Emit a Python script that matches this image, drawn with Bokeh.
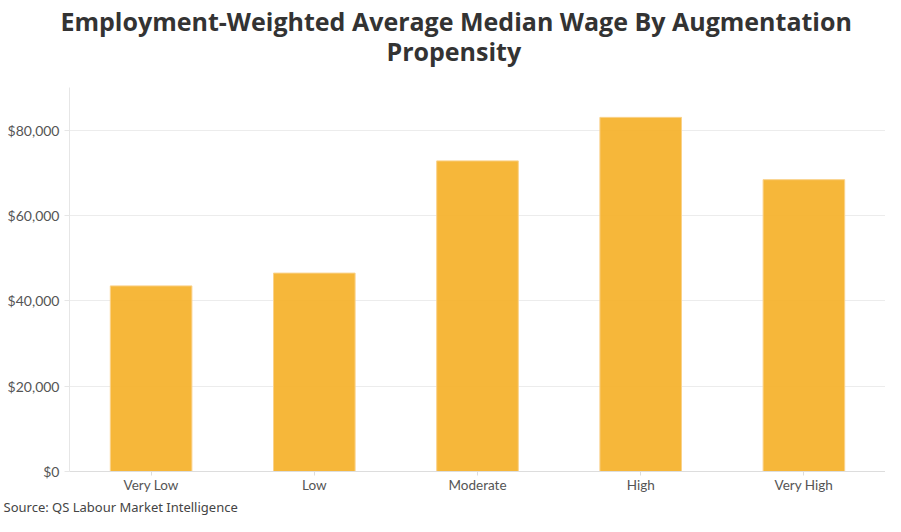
from bokeh.plotting import figure
from bokeh.models import Title, FixedTicker, NumeralTickFormatter, Range1d
from bokeh.embed import file_html
from bokeh.resources import INLINE

categories = ["Very Low", "Low", "Moderate", "High", "Very High"]
wages = [43500, 46500, 72800, 83000, 68400]
y_ticks = [0, 20000, 40000, 60000, 80000]

p = figure(x_range=categories, y_range=Range1d(0, 90000), width=885, height=516,
           output_backend="svg", toolbar_location=None,
           min_border_left=69, min_border_right=0, min_border_top=0, min_border_bottom=0)

p.vbar(x=categories, top=wages, width=0.5, fill_color="#F6B32F", fill_alpha=0.95,
       line_color="#FAD28A", line_width=1)

title_kw = dict(align="left", text_font="Open Sans", text_font_size="25px",
                text_font_style="bold", text_color="#333333")
# panels stack outward: spacer first (next to plot), then line 2, then line 1
p.add_layout(Title(text=" ", standoff=-9, **title_kw), "above")
p.add_layout(Title(text="Propensity", offset=317, standoff=-14, **title_kw), "above")
p.add_layout(Title(text="Employment-Weighted Average Median Wage By Augmentation",
                   offset=-9, standoff=2, **title_kw), "above")
p.add_layout(Title(text="Source: QS Labour Market Intelligence", align="left",
                   offset=-66, text_font="Noto Sans", text_font_size="13px",
                   text_font_style="normal", text_color="#444444", standoff=1), "below")

p.yaxis.ticker = FixedTicker(ticks=y_ticks)
p.yaxis.formatter = NumeralTickFormatter(format="$0,0")
p.yaxis.minor_tick_line_color = None
p.yaxis.major_tick_in = 0
p.yaxis.major_tick_out = 5
p.yaxis.axis_line_color = "#e6e6e6"
p.yaxis.major_tick_line_color = "#e6e6e6"
p.yaxis.major_label_text_font_size = "14px"
p.xaxis.axis_line_color = "#dddddd"
p.xaxis.major_tick_line_color = "#dddddd"
p.xaxis.major_tick_in = 0
p.xaxis.major_tick_out = 4
p.xaxis.major_label_standoff = 1
p.xaxis.major_label_text_font_size = "13.5px"
for ax in (p.xaxis, p.yaxis):
    ax.major_label_text_font = "Lato"
    ax.major_label_text_color = "#555555"

p.xgrid.grid_line_color = None
p.ygrid.grid_line_color = "#ececec"
p.outline_line_color = None

open("out.html", "w").write(file_html(p, INLINE))
